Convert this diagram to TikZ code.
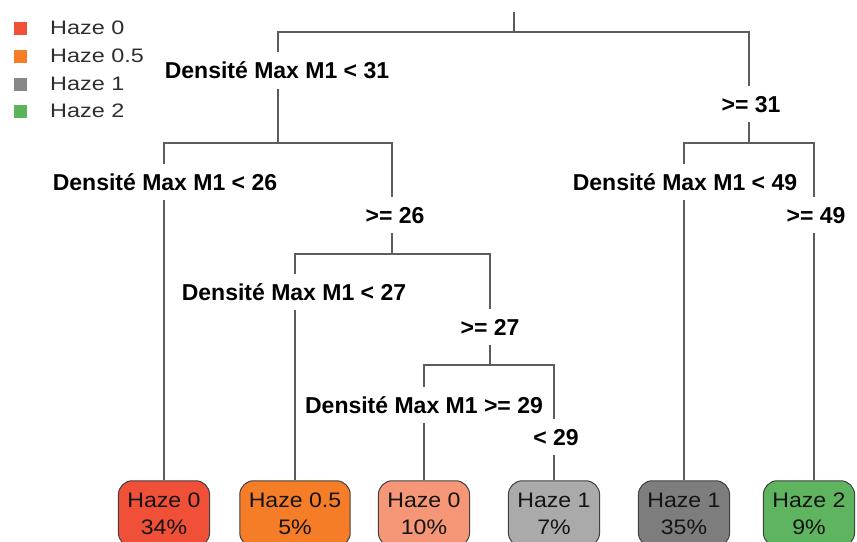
\documentclass[tikz,border=0pt]{standalone}
\usepackage{fontspec}
\setmainfont{Liberation Sans}
\newfontfamily\legfont[FakeStretch=1.2]{Liberation Sans}
\newfontfamily\leaffont[FakeStretch=1.1]{Liberation Sans}
\definecolor{czero}{RGB}{240,80,56}
\definecolor{chalf}{RGB}{246,125,40}
\definecolor{csalmon}{RGB}{245,150,118}
\definecolor{clgray}{RGB}{170,170,170}
\definecolor{cdgray}{RGB}{125,125,125}
\definecolor{cgreen}{RGB}{95,180,95}
\definecolor{lgray}{RGB}{135,135,135}
\definecolor{lgreen}{RGB}{90,180,90}
\tikzset{
  branch/.style={draw=black!64, line width=1.5pt},
  cond/.style={font=\bfseries\fontsize{23}{27}\selectfont, fill=white, inner xsep=3pt, inner ysep=10pt, text height=16.5pt, text depth=0pt},
  leaf/.style={draw=black!75, line width=1pt, rounded corners=14pt, align=center, font=\leaffont\fontsize{21}{27}\selectfont, inner xsep=9pt, minimum height=66pt, text=black!92},
  legsq/.style={minimum size=13pt, inner sep=0pt},
  legtxt/.style={font=\legfont\fontsize{19.5}{22}\selectfont, anchor=west, text=black!82, inner sep=0pt, text height=13.8pt, text depth=0pt}
}
\begin{document}
\begin{tikzpicture}[x=1pt,y=-1pt]
\useasboundingbox (0,0) rectangle (857,541);
\clip (0,0) rectangle (857,541);
% legend
\node[legsq, fill=czero] (k1) at (20,28) {};
\node[legsq, fill=chalf] (k2) at (20,56) {};
\node[legsq, fill=lgray] (k3) at (20,84) {};
\node[legsq, fill=lgreen] (k4) at (20,111) {};
\node[legtxt] (t1) at (50,28) {Haze 0};
\node[legtxt] (t2) at (50,56) {Haze 0.5};
\node[legtxt] (t3) at (50,84) {Haze 1};
\node[legtxt] (t4) at (50,111) {Haze 2};
% leaves
\node[leaf, fill=czero] (l1) at (164,513.75) {Haze 0\\34\%};
\node[leaf, fill=chalf] (l2) at (295,513.75) {Haze 0.5\\5\%};
\node[leaf, fill=csalmon] (l3) at (424,513.75) {Haze 0\\10\%};
\node[leaf, fill=clgray] (l4) at (554,513.75) {Haze 1\\7\%};
\node[leaf, fill=cdgray] (l5) at (684,513.75) {Haze 1\\35\%};
\node[leaf, fill=cgreen] (l6) at (809,513.75) {Haze 2\\9\%};
% junctions
\coordinate (root) at (514,12);
\coordinate (s1) at (514,32);
\coordinate (a) at (278,32);
\coordinate (b) at (749,32);
\coordinate (a1) at (278,143);
\coordinate (b1) at (749,143);
\coordinate (aL) at (164,143);
\coordinate (aR) at (392,143);
\coordinate (c) at (392,254);
\coordinate (cL) at (295,254);
\coordinate (cR) at (490,254);
\coordinate (d) at (490,365);
\coordinate (dL) at (424,365);
\coordinate (dR) at (554,365);
\coordinate (bL) at (684,143);
\coordinate (bR) at (814,143);
% branches
\draw[branch] (root) -- (s1);
\draw[branch] (a1) -- (a) -- (b) -- (b1);
\draw[branch] (aL |- l1.north) -- (aL) -- (aR) -- (c);
\draw[branch] (cL |- l2.north) -- (cL) -- (cR) -- (d);
\draw[branch] (dL |- l3.north) -- (dL) -- (dR) -- (dR |- l4.north);
\draw[branch] (bL |- l5.north) -- (bL) -- (bR) -- (bR |- l6.north);
% conditions
\node[cond] (q1) at (277,70.5) {Densité Max M1 < 31};
\node[cond] (q1r) at (751,104) {>= 31};
\node[cond] (q2) at (165,182) {Densité Max M1 < 26};
\node[cond] (q2r) at (395,215) {>= 26};
\node[cond] (q3) at (294,292) {Densité Max M1 < 27};
\node[cond] (q3r) at (490,327) {>= 27};
\node[cond] (q4) at (424,405) {Densité Max M1 >= 29};
\node[cond] (q4r) at (556,437) {< 29};
\node[cond] (q5) at (685,182) {Densité Max M1 < 49};
\node[cond] (q5r) at (816,215) {>= 49};
\end{tikzpicture}
\end{document}
